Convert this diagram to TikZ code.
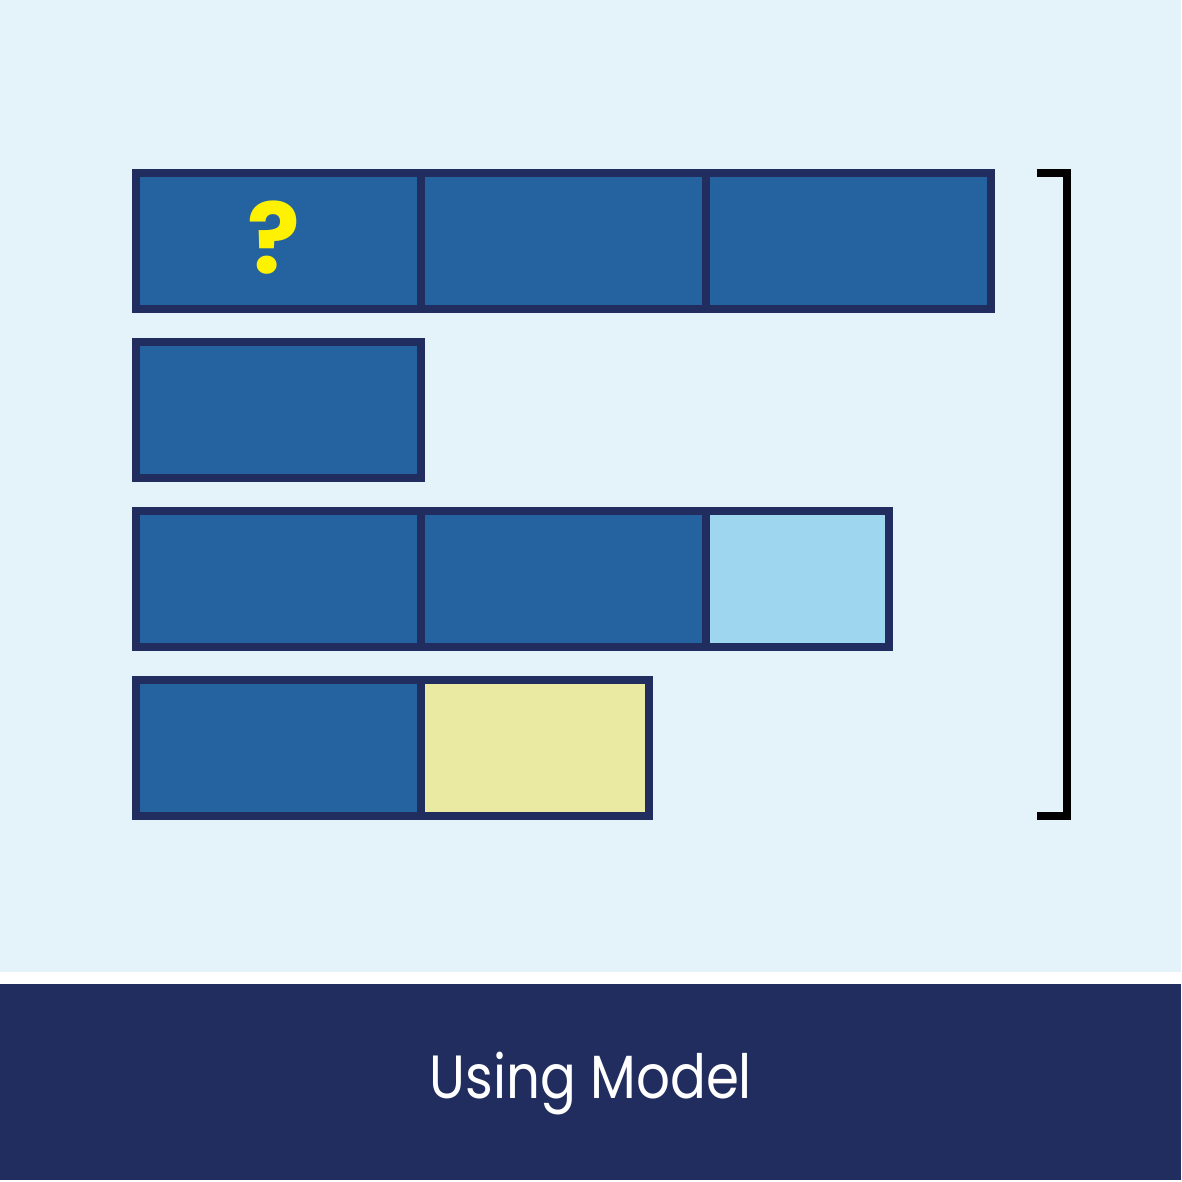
\documentclass[tikz,border=0pt]{standalone}
\usepackage{fontspec}
\newfontfamily\labelfont{Poppins}
\newfontfamily\qfont{Poppins Bold}
\definecolor{bgl}{HTML}{E4F3FA}
\definecolor{navy}{HTML}{212D5E}
\definecolor{cellblue}{HTML}{2563A0}
\definecolor{lightcell}{HTML}{9ED6F0}
\definecolor{yellowcell}{HTML}{EAEAA2}
\definecolor{qyellow}{HTML}{FFF200}
\tikzset{
  cell/.style={draw=navy, line width=8pt, fill=cellblue, rectangle, inner sep=0pt,
    minimum width=285pt, minimum height=136pt},
  brack/.style={draw=black, line width=8pt, line join=miter}
}
\begin{document}
\begin{tikzpicture}[x=1pt,y=-1pt]
\useasboundingbox (0,0) rectangle (1182,1182);
\fill[white] (0,0) rectangle (1182,1182);
\fill[bgl] (0,0) rectangle (1181,972);
\fill[navy] (0,984) rectangle (1181,1180);
% row 1
\node[cell] (a1) at (278.5,241) {};
\node[cell] (a2) at (563.5,241) {};
\node[cell] (a3) at (848.5,241) {};
\node[text=qyellow, font=\qfont\fontsize{98}{98}\selectfont] (q) at (274,238) {?};
% row 2
\node[cell] (b1) at (278.5,410) {};
% row 3
\node[cell] (c1) at (278.5,579) {};
\node[cell] (c2) at (563.5,579) {};
\node[cell, fill=lightcell, minimum width=183pt] (c3) at (797.5,579) {};
% row 4
\node[cell] (d1) at (278.5,748) {};
\node[cell, fill=yellowcell, minimum width=228pt] (d2) at (535,748) {};
% bracket
\coordinate (bt) at (1037,173);
\coordinate (bb) at (1037,816);
\draw[brack] (bt) -- (1067,173) -- (1067,816) -- (bb);
% label
\node[text=white, xscale=0.87, font=\labelfont\fontsize{61}{61}\selectfont] (lab) at (591,1084) {Using Model};
\end{tikzpicture}
\end{document}
